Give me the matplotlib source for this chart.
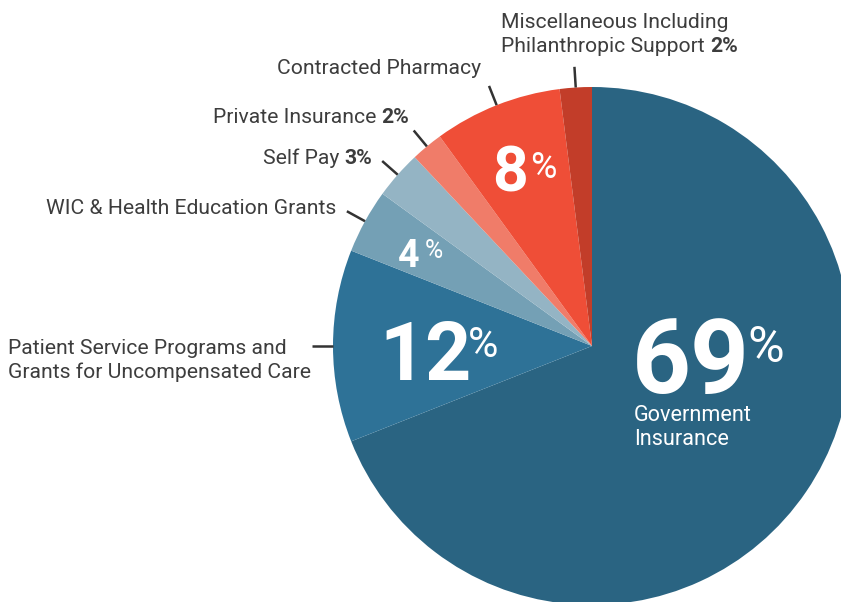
import numpy as np
import matplotlib.pyplot as plt

plt.rcParams['font.family'] = ['Roboto', 'DejaVu Sans']

# data
categories = ['Government Insurance',
              'Patient Service Programs and Grants for Uncompensated Care',
              'WIC & Health Education Grants', 'Self Pay', 'Private Insurance',
              'Contracted Pharmacy',
              'Miscellaneous Including Philanthropic Support']
shares = [69, 12, 4, 3, 2, 8, 2]
colors = ['#2a6482', '#2e7297', '#74a0b5', '#94b4c4', '#f07c69', '#ef4e37', '#c23d29']

W, H = 841, 602
fig = plt.figure(figsize=(W / 100, H / 100), dpi=100)
ax = fig.add_axes([0, 0, 1, 1])

cx, cy, R = 592, H - 346, 259
wedges, _ = ax.pie(shares, colors=colors, startangle=90, counterclock=False,
                   center=(cx, cy), radius=R,
                   wedgeprops=dict(linewidth=0))
ax.set_xlim(0, W)
ax.set_ylim(0, H)
ax.set_aspect('equal')
ax.axis('off')

# leader lines from the middle of the small slices
for i in range(1, len(shares)):
    w = wedges[i]
    mid = np.deg2rad((w.theta1 + w.theta2) / 2)
    xs = [cx + R * np.cos(mid), cx + R * 1.08 * np.cos(mid)]
    ys = [cy + R * np.sin(mid), cy + R * 1.08 * np.sin(mid)]
    ax.plot(xs, ys, color='#333333', lw=1.8, solid_capstyle='butt')

txt = '#3d3d3d'
fs = 15.2


def y(v):
    return H - v


def label(x, yb, s, bold=None, ha='right'):
    t = ax.text(x, y(yb), s + (' ' if bold else ''), ha=ha, va='baseline',
                fontsize=fs, color=txt)
    if bold:
        if ha == 'right':
            fig.canvas.draw()
            t2 = ax.text(x, y(yb), bold, ha='right', va='baseline',
                         fontsize=fs, color=txt, fontweight='bold')
            bw = t2.get_window_extent().width
            t.set_x(x - bw)
        else:
            ax.annotate(bold, xy=(1, 0), xycoords=t, va='bottom',
                        fontsize=fs, color=txt, fontweight='bold')


label(501, 28, 'Miscellaneous Including', ha='left')
label(501, 52, 'Philanthropic Support', bold=f'{shares[6]}%', ha='left')
label(481, 74, 'Contracted Pharmacy')
label(409, 123, 'Private Insurance', bold=f'{shares[4]}%')
label(372, 164, 'Self Pay', bold=f'{shares[3]}%')
label(336, 214, 'WIC & Health Education Grants')
label(8, 354, 'Patient Service Programs and', ha='left')
label(8, 378, 'Grants for Uncompensated Care', ha='left')

# big percentages inside the slices: number, then a smaller "%"
big = [(632, 393, 74, shares[0], 747, 362, 36),
       (379, 380, 58, shares[1], 468, 357, 30),
       (398, 267, 27, shares[2], 425, 258, 18),
       (492, 192, 45, shares[5], 530, 178, 26)]
for x, yb, size, v, px, pyb, psize in big:
    ax.text(x, y(yb), str(v), ha='left', va='baseline', fontsize=size,
            color='white', fontweight='bold')
    ax.text(px, y(pyb), '%', ha='left', va='baseline', fontsize=psize,
            color='white')

ax.text(634, y(421), 'Government', ha='left', va='baseline', fontsize=15.6,
        color='white')
ax.text(634, y(445), 'Insurance', ha='left', va='baseline', fontsize=15.6,
        color='white')

fig.savefig('out.png', dpi=100)
